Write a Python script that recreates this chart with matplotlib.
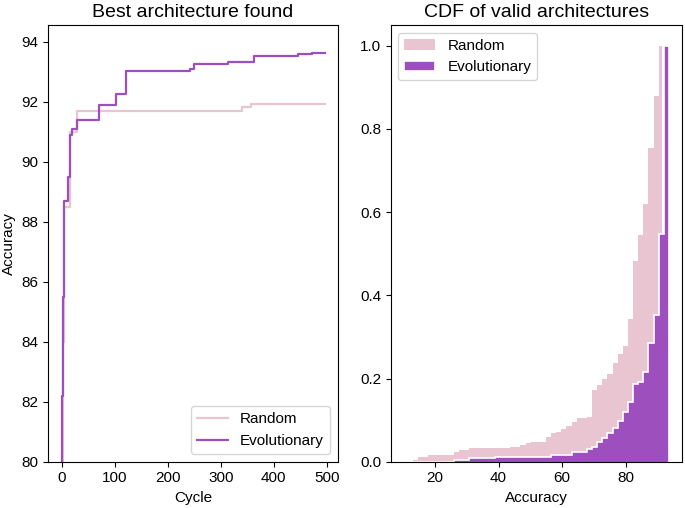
import numpy as np
import matplotlib
matplotlib.use("Agg")
import matplotlib.pyplot as plt

plt.rcParams['font.family'] = ['Liberation Sans', 'DejaVu Sans']

# ---- Left panel: best architecture found so far ----
evo_cycles = [0, 1, 3, 4, 12, 15, 19, 28, 71, 102, 122, 242, 250, 314, 362, 445, 472, 496]
evo_best = [76.0, 82.2, 85.5, 88.7, 89.5, 90.9, 91.1, 91.39, 91.87, 92.26, 93.03,
            93.08, 93.26, 93.32, 93.52, 93.58, 93.63, 93.63]

rand_cycles = [0, 2, 5, 15, 28, 340, 357, 496]
rand_best = [77.0, 84.0, 88.5, 90.97, 91.68, 91.83, 91.92, 91.92]

# ---- Right panel: CDF of valid architectures (cumulative fraction per bin) ----
acc_min, acc_max, n_bins = 13.0, 93.6, 50
rand_last_edge = 91.5
rand_cdf = [0.004, 0.0105, 0.0105, 0.016, 0.016, 0.016, 0.016, 0.016, 0.0225, 0.028,
            0.028, 0.032, 0.032, 0.032, 0.032, 0.032, 0.032, 0.032, 0.032, 0.036,
            0.036, 0.039, 0.044, 0.047, 0.047, 0.047, 0.060, 0.068, 0.072, 0.078,
            0.086, 0.096, 0.104, 0.106, 0.108, 0.172, 0.184, 0.198, 0.210, 0.238,
            0.258, 0.278, 0.342, 0.482, 0.544, 0.620, 0.754, 0.880, 1.000]
evo_cdf = [0.0, 0.0, 0.0, 0.0, 0.0, 0.0, 0.0, 0.0, 0.005, 0.005,
           0.005, 0.008, 0.008, 0.008, 0.008, 0.008, 0.011, 0.011, 0.011, 0.011,
           0.011, 0.011, 0.011, 0.011, 0.011, 0.011, 0.011, 0.017, 0.017, 0.017,
           0.017, 0.024, 0.024, 0.024, 0.030, 0.036, 0.047, 0.056, 0.068, 0.080,
           0.098, 0.120, 0.144, 0.188, 0.191, 0.216, 0.286, 0.352, 0.548, 1.000]

series_labels = ["Random", "Evolutionary"]
pink = "#e8c5d0"
purple = "#9d4fbd"

acc_edges = np.linspace(acc_min, acc_max, n_bins + 1)
rand_edges = np.append(acc_edges[:len(rand_cdf)], rand_last_edge)

fig = plt.figure(figsize=(6.85, 5.08), dpi=100)
ax1 = fig.add_axes([0.0705, 0.0911, 0.4225, 0.8597])
ax2 = fig.add_axes([0.5704, 0.0911, 0.4248, 0.8597])

ax1.step(rand_cycles, rand_best, where='post', color=pink, lw=1.6, label=series_labels[0])
ax1.step(evo_cycles, evo_best, where='post', color=purple, lw=1.6, label=series_labels[1])
ax1.set_xlim(-25.3, 520.6)
ax1.set_ylim(80, 94.55)
ax1.set_yticks(np.arange(80, 95, 2))
ax1.set_xticks(np.arange(0, 501, 100))
ax1.set_xlabel("Cycle", fontsize=11)
ax1.set_ylabel("Accuracy", fontsize=11)
ax1.set_title("Best architecture found", fontsize=14)
ax1.tick_params(labelsize=11)
ax1.legend(loc='lower right', fontsize=11)

ax2.stairs(rand_cdf, rand_edges, fill=True, facecolor=pink, edgecolor='none',
           label=series_labels[0])
ax2.stairs(evo_cdf, acc_edges, fill=True, facecolor=purple, edgecolor='white',
           linewidth=1.2, label=series_labels[1])
ax2.set_xlim(6.07, 97.6)
ax2.set_ylim(0, 1.05)
ax2.set_xticks([20, 40, 60, 80])
ax2.set_yticks(np.arange(0, 1.01, 0.2))
ax2.set_xlabel("Accuracy", fontsize=11)
ax2.set_title("CDF of valid architectures", fontsize=14)
ax2.tick_params(labelsize=11)
ax2.legend(loc='upper left', fontsize=11)

fig.savefig("out.png", dpi=100)
